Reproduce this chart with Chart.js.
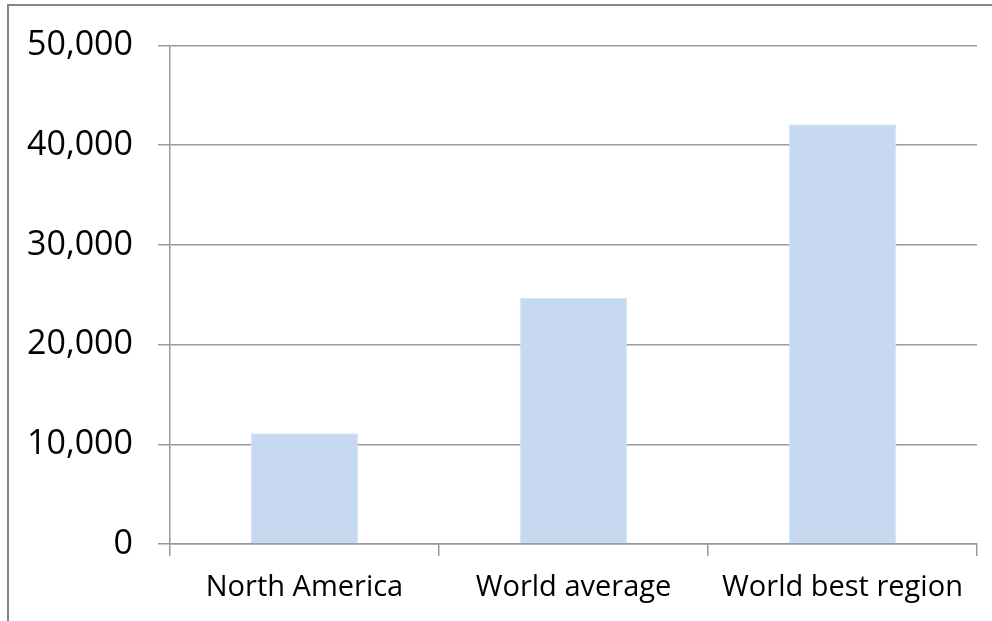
<!DOCTYPE html>
<html>
<head>
<meta charset="utf-8">
<script src="https://cdn.jsdelivr.net/npm/chart.js@4.4.1/dist/chart.umd.min.js"></script>
<style>
  html, body { margin: 0; padding: 0; background: #fff; }
  #wrap { position: relative; width: 992px; height: 621px; overflow: hidden; }
  #frame { position: absolute; left: 7px; top: 4px; width: 1000px; height: 700px;
           border-left: 2px solid #868686; border-top: 2px solid #868686; box-sizing: border-box; pointer-events: none; }
  canvas { position: absolute; left: 0; top: 0; }
</style>
</head>
<body>
<div id="wrap">
  <canvas id="c" width="992" height="621"></canvas>
  <div id="frame"></div>
</div>
<script>
const categories = ["North America", "World average", "World best region"];
const values = [11100, 24700, 42100];
const yTicks = [0, 10000, 20000, 30000, 40000, 50000];

const ctx = document.getElementById('c');
new Chart(ctx, {
  type: 'bar',
  data: {
    labels: categories,
    datasets: [{
      data: values,
      backgroundColor: '#C6D9F0',
      borderColor: '#D4E2F4',
      borderWidth: 1,
      barPercentage: 0.4,
      categoryPercentage: 1.0
    }]
  },
  options: {
    responsive: false,
    animation: false,
    devicePixelRatio: 1,
    layout: { padding: { top: 44, right: 15, left: 10, bottom: 0 } },
    plugins: { legend: { display: false }, tooltip: { enabled: false } },
    scales: {
      x: {
        offset: true,
        grid: { offset: true, drawOnChartArea: false, drawTicks: true, tickLength: 12, color: '#999999', lineWidth: 1.5 },
        border: { color: '#999999', width: 1.5 },
        ticks: { color: '#000', font: { family: 'Open Sans', size: 29 }, padding: 14, maxRotation: 0 },
        afterFit: (s) => { s.height = 621 - 544 - 0; }
      },
      y: {
        min: 0, max: 50000,
        afterBuildTicks: (s) => { s.ticks = yTicks.map(v => ({ value: v })); },
        grid: { color: '#999999', lineWidth: 1.5, tickLength: 12, drawTicks: true },
        border: { color: '#999999', width: 1.5 },
        ticks: {
          color: '#000', font: { family: 'Open Sans', size: 34 }, padding: 25,
          callback: (v) => v.toLocaleString('en-US')
        },
        afterFit: (s) => { s.width = 170 - 10; }
      }
    }
  }
});
</script>
</body>
</html>
